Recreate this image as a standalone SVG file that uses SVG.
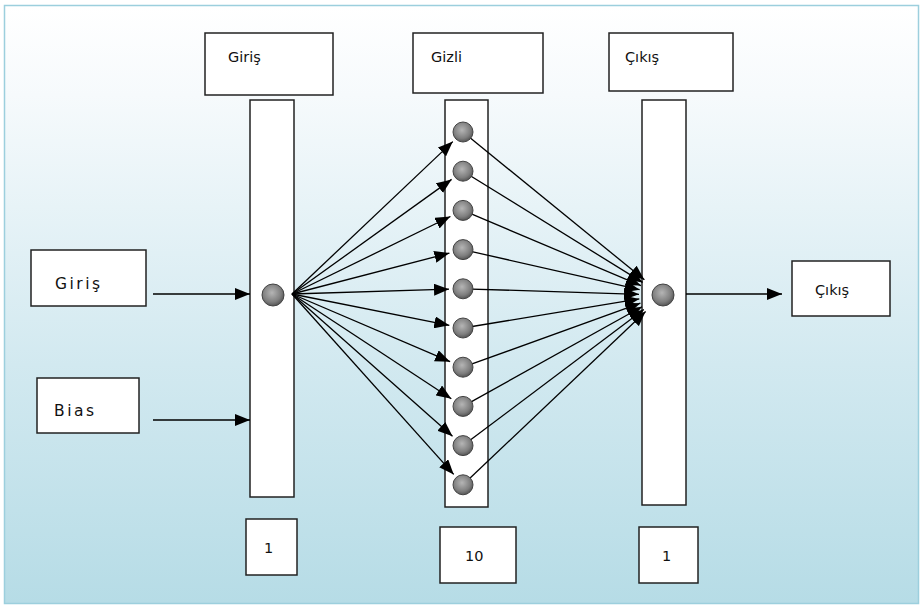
<svg xmlns="http://www.w3.org/2000/svg" width="920" height="607" viewBox="0 0 920 607">
<style>
.box{fill:#fff;stroke:#222;stroke-width:1.5}
.t{font-family:"DejaVu Sans","Liberation Sans",sans-serif;font-size:14.5px;fill:#111}
.tl{font-family:"DejaVu Sans","Liberation Sans",sans-serif;font-size:15.5px;fill:#111;letter-spacing:2.5px}
.c{stroke:#000;stroke-width:1.3;fill:none}
.n{fill:url(#ball);stroke:#444;stroke-width:1}
</style>
<defs>
<linearGradient id="bg" x1="0" y1="0" x2="0" y2="1">
<stop offset="0" stop-color="#ffffff"/>
<stop offset="0.15" stop-color="#f6fafc"/>
<stop offset="0.6" stop-color="#d2e9f0"/>
<stop offset="1" stop-color="#b6dce6"/>
</linearGradient>
<radialGradient id="ball" cx="0.45" cy="0.4" r="0.6">
<stop offset="0" stop-color="#b5b5b5"/>
<stop offset="0.7" stop-color="#7e7e7e"/>
<stop offset="1" stop-color="#555"/>
</radialGradient>
<marker id="ah" markerUnits="userSpaceOnUse" markerWidth="16" markerHeight="12" refX="15" refY="6" orient="auto">
<path d="M0,0 L15,6 L0,12 Z" fill="#000"/>
</marker>
</defs>
<rect x="4.5" y="5.5" width="914" height="598" fill="url(#bg)" stroke="#9ccfdd" stroke-width="1.5"/>
<g id="hdr-giris"><rect class="box" x="205" y="33" width="128" height="62"/><text class="t" x="228" y="62">Giriş</text></g>
<g id="hdr-gizli"><rect class="box" x="413" y="33" width="130" height="60"/><text class="t" x="431" y="62">Gizli</text></g>
<g id="hdr-cikis"><rect class="box" x="609" y="33" width="124" height="58"/><text class="t" x="625" y="62">Çıkış</text></g>
<g id="bar-input"><rect class="box" x="250" y="100" width="44" height="397"/></g>
<g id="bar-hidden"><rect class="box" x="445" y="100" width="43" height="407"/></g>
<g id="bar-output"><rect class="box" x="642" y="100" width="44" height="405"/></g>
<g id="in-giris"><rect class="box" x="31" y="250" width="115" height="56"/><text class="tl" x="55" y="289">Giriş</text></g>
<g id="in-bias"><rect class="box" x="37" y="378" width="102" height="55"/><text class="tl" x="54" y="416">Bias</text></g>
<g id="out-cikis"><rect class="box" x="792" y="261" width="98" height="55"/><text class="t" x="815" y="295">Çıkış</text></g>
<g id="cnt-1a"><rect class="box" x="246" y="519" width="51" height="56"/><text class="t" x="264" y="553">1</text></g>
<g id="cnt-10"><rect class="box" x="440" y="527" width="76" height="56"/><text class="t" x="465" y="561">10</text></g>
<g id="cnt-1b"><rect class="box" x="639" y="527" width="59" height="56"/><text class="t" x="662" y="561">1</text></g>
<g id="connectors" class="c" marker-end="url(#ah)">
<line x1="153" y1="294" x2="250" y2="294"/>
<line x1="153" y1="420" x2="250" y2="420"/>
<line x1="686" y1="294" x2="782" y2="294"/>
<line x1="292" y1="294" x2="452.8" y2="141.6"/>
<line x1="292" y1="294" x2="451.6" y2="179.4"/>
<line x1="292" y1="294" x2="450.4" y2="216.5"/>
<line x1="292" y1="294" x2="449.4" y2="253.1"/>
<line x1="292" y1="294" x2="449.0" y2="289.2"/>
<line x1="292" y1="294" x2="449.3" y2="325.3"/>
<line x1="292" y1="294" x2="450.1" y2="361.7"/>
<line x1="292" y1="294" x2="451.3" y2="398.7"/>
<line x1="292" y1="294" x2="452.5" y2="436.3"/>
<line x1="292" y1="294" x2="453.7" y2="474.4"/>
<line x1="463" y1="132" x2="644.4" y2="279.8"/>
<line x1="463" y1="171.2" x2="642.6" y2="282.4"/>
<line x1="463" y1="210.4" x2="640.9" y2="285.6"/>
<line x1="463" y1="249.6" x2="639.6" y2="289.7"/>
<line x1="463" y1="288.8" x2="639.0" y2="294.3"/>
<line x1="463" y1="328" x2="639.3" y2="298.9"/>
<line x1="463" y1="367.2" x2="640.4" y2="303.2"/>
<line x1="463" y1="406.4" x2="642.0" y2="306.7"/>
<line x1="463" y1="445.6" x2="643.8" y2="309.4"/>
<line x1="463" y1="484.8" x2="645.6" y2="311.5"/>
</g>
<g id="node-in"><circle class="n" cx="273" cy="295" r="11"/></g>
<g id="nodes-hidden">
<circle class="n" cx="463" cy="132" r="10"/>
<circle class="n" cx="463" cy="171.2" r="10"/>
<circle class="n" cx="463" cy="210.4" r="10"/>
<circle class="n" cx="463" cy="249.6" r="10"/>
<circle class="n" cx="463" cy="288.8" r="10"/>
<circle class="n" cx="463" cy="328" r="10"/>
<circle class="n" cx="463" cy="367.2" r="10"/>
<circle class="n" cx="463" cy="406.4" r="10"/>
<circle class="n" cx="463" cy="445.6" r="10"/>
<circle class="n" cx="463" cy="484.8" r="10"/>
</g>
<g id="node-out"><circle class="n" cx="663" cy="295" r="11"/></g>
</svg>
